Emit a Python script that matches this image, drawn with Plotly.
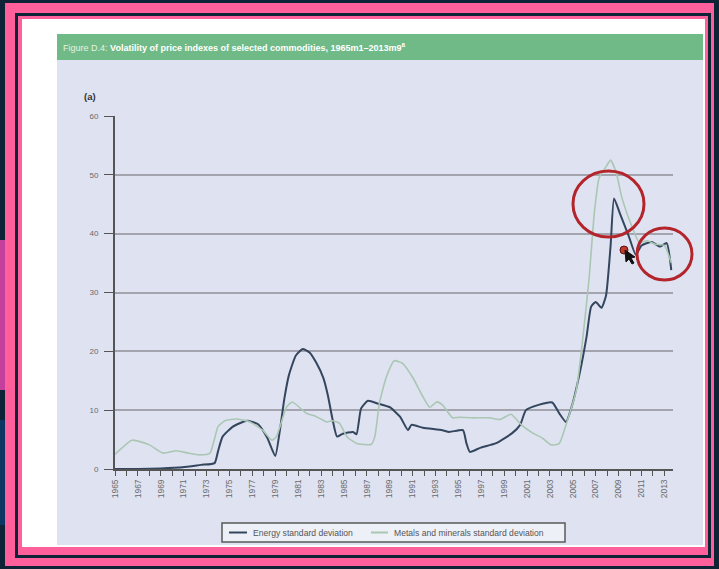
import plotly.graph_objects as go

# ---- data: rolling standard deviation of commodity price indexes ----
energy_years = [1965.0, 1967.0, 1969.0, 1970.9, 1972.5, 1973.7, 1974.0, 1974.4, 1975.3, 1976.5,
                1977.5, 1978.3, 1979.0, 1979.4, 1979.8, 1980.2, 1980.8, 1981.4, 1982.0, 1982.6,
                1983.2, 1983.6, 1984.0, 1984.4, 1984.9, 1985.8, 1986.1, 1986.5, 1987.1, 1988.0,
                1989.0, 1989.9, 1990.6, 1990.9, 1991.9, 1993.6, 1994.2, 1995.4, 1995.7, 1996.0,
                1996.9, 1998.3, 1999.7, 2000.4, 2000.9, 2002.0, 2003.2, 2003.8, 2004.4, 2004.9,
                2005.6, 2006.2, 2006.6, 2007.0, 2007.5, 2007.9, 2008.3, 2008.6, 2009.1, 2009.9,
                2010.5, 2011.0, 2011.9, 2012.6, 2013.2, 2013.6]
energy_sd = [0.0, 0.0, 0.1, 0.3, 0.7, 1.0, 3.0, 5.5, 7.2, 8.2,
             7.6, 5.3, 2.2, 6.5, 12.0, 16.0, 19.3, 20.4, 19.8, 18.0,
             15.5, 12.5, 8.5, 5.5, 6.0, 6.3, 5.9, 10.3, 11.6, 11.1,
             10.5, 8.9, 6.6, 7.5, 7.0, 6.6, 6.3, 6.6, 4.4, 2.9,
             3.6, 4.4, 6.1, 7.5, 10.0, 10.9, 11.3, 9.5, 8.0, 10.6,
             16.3, 22.5, 27.6, 28.4, 27.4, 29.5, 38.0, 46.0, 43.5, 39.5,
             36.4, 38.0, 38.6, 37.8, 38.4, 33.8]

metals_years = [1965.0, 1966.5, 1968.0, 1969.2, 1970.4, 1971.4, 1972.4, 1973.3, 1974.0, 1974.6,
                1975.6, 1976.8, 1977.9, 1978.7, 1979.1, 1980.0, 1980.5, 1981.7, 1982.6, 1983.5,
                1984.0, 1984.6, 1985.3, 1986.2, 1987.4, 1987.7, 1988.1, 1988.7, 1989.4, 1990.1,
                1991.0, 1991.9, 1992.5, 1993.1, 1993.6, 1994.5, 1995.1, 1996.2, 1997.7, 1998.6,
                1999.6, 2000.5, 2001.5, 2002.3, 2003.1, 2003.8, 2004.4, 2005.3, 2005.8, 2006.4,
                2006.9, 2007.3, 2007.9, 2008.3, 2008.8, 2009.3, 2010.2, 2010.8, 2011.5, 2012.2,
                2013.0, 2013.6]
metals_sd = [2.5, 4.9, 4.1, 2.7, 3.1, 2.7, 2.4, 2.7, 7.2, 8.2,
             8.5, 8.0, 6.6, 4.9, 5.5, 10.6, 11.4, 9.5, 8.9, 8.0,
             8.2, 7.8, 5.4, 4.3, 4.2, 5.5, 11.2, 15.6, 18.4, 18.0,
             15.6, 12.3, 10.5, 11.4, 10.9, 8.7, 8.8, 8.7, 8.7, 8.4,
             9.3, 7.5, 6.1, 5.3, 4.1, 4.3, 7.5, 13.4, 21.0, 32.0,
             44.0, 49.5, 51.4, 52.5, 50.3, 46.0, 41.0, 38.5, 38.8, 38.2,
             38.0, 35.0]

series_names = ["Energy standard deviation", "Metals and minerals standard deviation"]
series_colors = ["#33465e", "#a9c7b2"]

# labelled ticks every other year, plain minor ticks every year
label_years = list(range(1965, 2014, 2))
label_text = [str(y) for y in label_years]
y_ticks = [0, 10, 20, 30, 40, 50, 60]

# ---- page geometry (pixels) ----
W, H = 719, 569
L, R, T, B = 115, 673, 116, 469


def px(x):
    return (x - L) / (R - L)


def py(y):
    return (B - y) / (B - T)


def rect(x0, y0, x1, y1, color, layer="below", line=None):
    return dict(type="rect", xref="paper", yref="paper",
                x0=px(x0), x1=px(x1), y0=py(y1), y1=py(y0),
                fillcolor=color, line=line or dict(width=0), layer=layer)


NAVY = "#0e2436"
PINK = "#ff5f9a"
shapes = [
    rect(0, 240, 5, 390, "#c4409c"),
    rect(0, 420, 5, 525, "#0b3563"),
    rect(5, 3, 714, 566, PINK),
    rect(15, 13, 711, 558, NAVY),
    rect(18, 16, 708, 555, PINK),
    rect(22, 19, 705, 547, "#ffffff"),
    rect(57, 60, 703, 545, "#dfe2f1"),
    rect(57, 34, 703, 60, "#6fba86"),
]

# legend box drawn under the figure
LEG_Y = 532.5
shapes.append(rect(222, 523, 565, 542, "#eef0f8", layer="above",
                   line=dict(color="#5a5a5a", width=1.5)))
legend_items = [(229, 247, 251), (371, 388, 392)]
annotations = []
for (lx0, lx1, tx), name, color in zip(legend_items, series_names, series_colors):
    shapes.append(dict(type="line", xref="paper", yref="paper",
                       x0=px(lx0), x1=px(lx1), y0=py(LEG_Y), y1=py(LEG_Y),
                       line=dict(color=color, width=2), layer="above"))
    annotations.append(dict(xref="paper", yref="paper", x=px(tx), y=py(LEG_Y),
                            xanchor="left", yanchor="middle", showarrow=False,
                            text=name, font=dict(size=8.6, color="#555555")))

RED = "#b3242b"
# hand-drawn highlight rings around the 2008 spike and the 2011-13 plateau
shapes += [
    dict(type="circle", xref="paper", yref="paper",
         x0=px(573), x1=px(644), y0=py(237), y1=py(171),
         line=dict(color=RED, width=3)),
    dict(type="circle", xref="paper", yref="paper",
         x0=px(637), x1=px(692), y0=py(280), y1=py(228),
         line=dict(color=RED, width=3)),
    dict(type="circle", xref="paper", yref="paper",
         x0=px(620), x1=px(628), y0=py(254), y1=py(246),
         fillcolor="#c0392b", line=dict(color="#5a1010", width=1)),
    dict(type="path", xref="paper", yref="paper",
         path=f"M {px(625)} {py(250)} L {px(626)} {py(262)} L {px(629)} {py(259)} "
              f"L {px(632)} {py(264)} L {px(634)} {py(263)} L {px(631)} {py(258)} "
              f"L {px(635)} {py(257)} Z",
         fillcolor="#111111", line=dict(color="#111111", width=1)),
]

fig = go.Figure()
fig.add_trace(go.Scatter(
    x=energy_years, y=energy_sd, mode="lines", name=series_names[0],
    line=dict(color=series_colors[0], width=2, shape="spline", smoothing=0.5),
))
fig.add_trace(go.Scatter(
    x=metals_years, y=metals_sd, mode="lines", name=series_names[1],
    line=dict(color=series_colors[1], width=1.6, shape="spline", smoothing=0.5),
))

annotations += [
    dict(xref="paper", yref="paper", x=px(61), y=py(47),
         xanchor="left", yanchor="middle", showarrow=False,
         text="<span style='color:#e4f2e8'>Figure D.4:</span> "
              "<b>Volatility of price indexes of selected commodities, 1965m1–2013m9<sup>a</sup></b>",
         font=dict(size=9, color="#ffffff")),
    dict(xref="paper", yref="paper", x=px(82), y=py(96),
         xanchor="left", yanchor="middle", showarrow=False,
         text="<b>(a)</b>", font=dict(size=9.5, color="#333333")),
]

fig.update_layout(
    width=W, height=H, autosize=False,
    margin=dict(l=L, r=W - R, t=T, b=H - B, pad=0),
    paper_bgcolor=NAVY,
    plot_bgcolor="rgba(0,0,0,0)",
    font=dict(family="Liberation Sans, Arial, sans-serif", color="#666666", size=8),
    shapes=shapes,
    annotations=annotations,
    showlegend=False,
)

fig.update_xaxes(
    range=[1965, 2013.75], tickmode="array",
    tickvals=label_years, ticktext=label_text, tickangle=-90,
    ticks="outside", ticklen=5, tickwidth=1.2, tickcolor="#555555",
    minor=dict(tickmode="linear", tick0=1965, dtick=1, ticks="outside",
               ticklen=5, tickwidth=1.2, tickcolor="#555555", showgrid=False),
    showline=True, linecolor="#555555", linewidth=2,
    showgrid=False, zeroline=False,
    tickfont=dict(size=8.5, color="#6a6a6a"),
)
fig.update_yaxes(
    range=[0, 60], tickvals=y_ticks,
    ticks="outside", ticklen=9, tickwidth=1.2, tickcolor="#555555",
    ticklabelstandoff=4,
    showline=True, linecolor="#555555", linewidth=2,
    showgrid=True, gridcolor="#a3a4ae", gridwidth=1.5, zeroline=False,
    tickfont=dict(size=8, color="#6a6a6a"),
)

fig.write_html("out.html", config={"displayModeBar": False})
